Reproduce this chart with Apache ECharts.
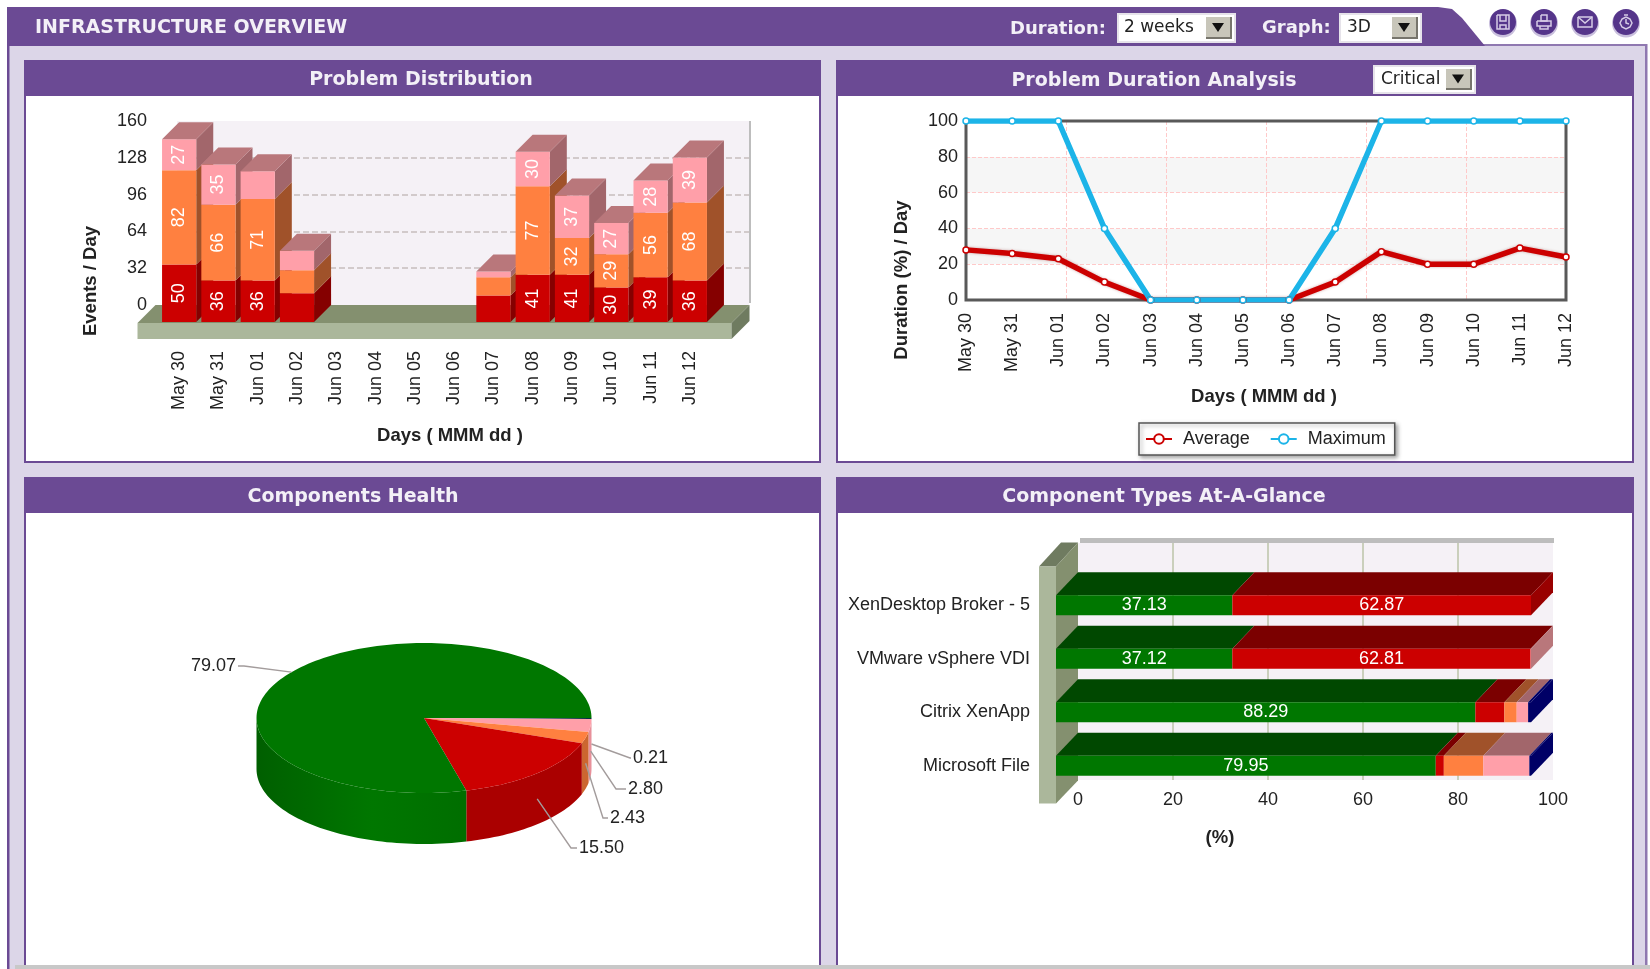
<!DOCTYPE html>
<html>
<head>
<meta charset="utf-8">
<title>Infrastructure Overview</title>
<script src="https://cdn.jsdelivr.net/npm/echarts@6/dist/echarts.min.js"></script>
<style>
html, body { margin: 0; padding: 0; background: #fff; }
#main { width: 1650px; height: 969px; }
</style>
</head>
<body>
<div id="main"></div>
<script>
// ---- data ----
var days = ['May 30', 'May 31', 'Jun 01', 'Jun 02', 'Jun 03', 'Jun 04', 'Jun 05', 'Jun 06', 'Jun 07', 'Jun 08', 'Jun 09', 'Jun 10', 'Jun 11', 'Jun 12'];

var eventsCritical = [50, 36, 36, 25, 0, 0, 0, 0, 23, 41, 41, 30, 39, 36];
var eventsMajor    = [82, 66, 71, 20, 0, 0, 0, 0, 16, 77, 32, 29, 56, 68];
var eventsMinor    = [27, 35, 24, 17, 0, 0, 0, 0, 5, 30, 37, 27, 28, 39];

var durationAverage = [28, 26, 23, 10, 0, 0, 0, 0, 10, 27, 20, 20, 29, 24];
var durationMaximum = [100, 100, 100, 40, 0, 0, 0, 0, 40, 100, 100, 100, 100, 100];

var healthValues = [0.21, 2.80, 2.43, 15.50, 79.07];

var componentTypes = ['XenDesktop Broker - 5', 'VMware vSphere VDI', 'Citrix XenApp', 'Microsoft File'];
var typeNormal   = [37.13, 37.12, 88.29, 79.95];
var typeCritical = [62.87, 62.81, 6.1, 1.7];
var typeMajor    = [0, 0, 2.6, 8.3];
var typeMinor    = [0, 0.07, 2.4, 9.7];
var typeUnknown  = [0, 0, 0.61, 0.35];

// ---- look ----
var PURPLE = '#6B4A94', LAVENDER = '#DCD6E8', WALL = '#F5F1F6';
var FONT = '"Liberation Sans", Arial, sans-serif';
var HEAD_FONT = '"DejaVu Sans", Verdana, sans-serif';
var TEXT = '#222';
var TICK_SIZE = 18, NAME_SIZE = 18.5;

// stacked bar faces: front, side, top
var RED = ['#CC0000', '#850000', '#7B0000'];
var ORANGE = ['#FF8040', '#A0522A', '#A0522A'];
var PINK = ['#FF9FA9', '#A2666B', '#B9777B'];
var GREEN = ['#007700', '#004800', '#004800'];
var NAVY = ['#000066', '#000066', '#000066'];

var chart = echarts.init(document.getElementById('main'));

// ---- page furniture ----
var chrome = [];
function box(x, y, w, h, fill, z) {
    chrome.push({ type: 'rect', z: z || -5, silent: true, shape: { x: x, y: y, width: w, height: h }, style: { fill: fill } });
}
function poly(points, fill, z) {
    chrome.push({ type: 'polygon', z: z || -5, silent: true, shape: { points: points }, style: { fill: fill } });
}
function txt(text, x, y, size, fill, opts) {
    opts = opts || {};
    chrome.push({
        type: 'text', z: opts.z || 5, silent: true, x: x, y: y, rotation: opts.rotation || 0,
        style: {
            text: text, fill: fill, font: (opts.bold ? 'bold ' : '') + size + 'px ' + (opts.font || FONT),
            align: opts.align || 'center', verticalAlign: 'middle'
        }
    });
}
function panel(x, y, w, h, title, titleX, titleY) {
    box(x, y, w, h, PURPLE);
    box(x + 2, y + 36, w - 4, h - 38, '#fff');
    txt(title, titleX, titleY || y + 20, 19, '#F3F0F7', { bold: true, font: HEAD_FONT });
}
function selectBox(x, y, w, h, text, textX, size) {
    box(x, y, w, h, '#E6E3EA', -4);
    box(x + 2, y + 2, w - 4, h - 4, '#fff', -4);
    var bx = x + w - 30;
    box(bx, y + 4, 26, h - 8, '#77756C', -4);
    box(bx, y + 4, 24, h - 10, '#C8C6BA', -4);
    var cx = bx + 12, cy = y + h / 2 - 1;
    poly([[cx - 6, cy - 4], [cx + 6, cy - 4], [cx, cy + 5]], '#111', -3);
    txt(text, textX, y + h / 2, size, '#222', { align: 'left', font: HEAD_FONT });
}
// glyph: list of polylines in a 16x16 box
function roundIcon(cx, cy, glyph) {
    chrome.push({ type: 'circle', z: -4, silent: true, shape: { cx: cx, cy: cy + 1.5, r: 14 }, style: { fill: '#C9BFDD' } });
    chrome.push({ type: 'circle', z: -4, silent: true, shape: { cx: cx, cy: cy, r: 13 }, style: { fill: '#55358A' } });
    glyph.forEach(function (line) {
        chrome.push({
            type: 'polyline', z: -3, silent: true,
            shape: { points: line.map(function (p) { return [cx - 8 + p[0], cy - 8 + p[1]]; }) },
            style: { fill: 'none', stroke: '#D6CCE6', lineWidth: 1.5 }
        });
    });
}

box(0, 0, 1650, 969, '#fff', -8);
box(7, 46, 1640, 923, LAVENDER, -7);
box(7, 46, 2.5, 923, PURPLE, -6);
box(1645, 44, 2.5, 925, '#8F78B0', -6);
box(1480, 44, 167, 2, '#8F78B0', -6);
poly([[7, 7], [1438, 7], [1452, 9], [1462, 18], [1485, 46], [7, 46]], PURPLE, -6);

txt('INFRASTRUCTURE OVERVIEW', 35, 28, 19, '#F3F0F7', { bold: true, align: 'left', font: HEAD_FONT });
txt('Duration:', 1010, 29, 18, '#F3F0F7', { bold: true, align: 'left', font: HEAD_FONT });
txt('Graph:', 1262, 28, 18, '#F3F0F7', { bold: true, align: 'left', font: HEAD_FONT });
selectBox(1117, 13, 119, 30, '2 weeks', 1124, 17);
selectBox(1339, 13, 83, 30, '3D', 1347, 17);

roundIcon(1503, 22, [[[2, 1], [14, 1], [14, 15], [2, 15], [2, 1]], [[5, 1], [5, 7], [11, 7], [11, 1]], [[5, 15], [5, 11], [11, 11], [11, 15]]]);
roundIcon(1544, 22, [[[5, 1], [11, 1], [11, 7], [5, 7], [5, 1]], [[1, 7], [15, 7], [15, 12], [1, 12], [1, 7]], [[4, 12], [4, 15], [12, 15], [12, 12]]]);
roundIcon(1585, 22, [[[1, 3], [15, 3], [15, 13], [1, 13], [1, 3]], [[1, 3], [8, 9], [15, 3]]]);
roundIcon(1626, 22, [[[8, 3], [12, 5], [14, 9], [12, 13], [8, 15], [4, 13], [2, 9], [4, 5], [8, 3]], [[8, 5], [8, 9], [11, 10]], [[6, 1], [10, 1]]]);

panel(24, 60, 797, 403, 'Problem Distribution', 421);
panel(836, 60, 798, 403, 'Problem Duration Analysis', 1154, 81);
panel(24, 477, 797, 492, 'Components Health', 353);
panel(836, 477, 798, 492, 'Component Types At-A-Glance', 1164);
selectBox(1373, 65, 103, 29, 'Critical', 1381, 17);
box(15, 965, 1635, 4, '#C8C8C8', -2);

// axis titles
txt('Events / Day', 91, 281, NAME_SIZE, TEXT, { bold: true, rotation: Math.PI / 2 });
txt('Days ( MMM dd )', 450, 436, NAME_SIZE, TEXT, { bold: true });
txt('Duration (%) / Day', 902, 280, NAME_SIZE, TEXT, { bold: true, rotation: Math.PI / 2 });
txt('Days ( MMM dd )', 1264, 397, NAME_SIZE, TEXT, { bold: true });
txt('(%)', 1220, 838, NAME_SIZE, TEXT, { bold: true });

// walls round the 3D plots
box(749, 121, 2, 182, '#BDBDBD', 0);
box(1080, 538, 474, 5, '#BDBDBD', 0);

// frame of the line plot, under the lines but over the bands
chrome.push({
    type: 'rect', z: 1, silent: true, shape: { x: 966, y: 121, width: 600, height: 179 },
    style: { fill: 'none', stroke: '#595959', lineWidth: 3 }
});

// ---- 3D helpers ----
function quad(a, b, c, d, fill) {
    return { type: 'polygon', shape: { points: [a, b, c, d] }, style: { fill: fill } };
}
function valueText(text, x, y, rotate) {
    return {
        type: 'text', x: x, y: y, rotation: rotate ? Math.PI / 2 : 0, z2: 10,
        style: { text: text, fill: '#fff', font: TICK_SIZE + 'px ' + FONT, align: 'center', verticalAlign: 'middle' }
    };
}

var BAR_DEPTH = 17, BAR_LABEL_MIN = 27;
var barFaces = [RED, ORANGE, PINK];
function renderStackedColumn(params, api) {
    var i = api.value(0);
    var halfW = api.size([1, 0])[0] * 0.435;
    var cx = api.coord([i, 0])[0];
    var x0 = cx - halfW, x1 = cx + halfW;
    var children = [], total = 0, top = null;
    for (var s = 0; s < 3; s++) {
        var v = api.value(s + 1);
        if (!v) continue;
        var yLow = api.coord([i, total])[1];
        var yHigh = api.coord([i, total + v])[1];
        total += v;
        top = yHigh;
        children.push(quad([x1, yLow], [x1 + BAR_DEPTH, yLow - BAR_DEPTH], [x1 + BAR_DEPTH, yHigh - BAR_DEPTH], [x1, yHigh], barFaces[s][1]));
        children.push(quad([x0, yLow], [x1, yLow], [x1, yHigh], [x0, yHigh], barFaces[s][0]));
        if (v >= BAR_LABEL_MIN) children.push(valueText(String(v), cx, (yLow + yHigh) / 2, true));
    }
    if (top !== null) {
        children.push(quad([x0, top], [x1, top], [x1 + BAR_DEPTH, top - BAR_DEPTH], [x0 + BAR_DEPTH, top - BAR_DEPTH], PINK[2]));
    }
    return { type: 'group', children: children };
}

// floor slab under the columns
function renderFloor(params, api) {
    var g = params.coordSys;
    var l = g.x - 22, r = g.x + g.width + 22, b = g.y + g.height, h = 16, d = BAR_DEPTH + 1;
    return {
        type: 'group', children: [
            quad([l, b + 1], [r, b + 1], [r + d, b + 1 - d], [l + d, b + 1 - d], '#84906F'),
            quad([l, b + 1], [r, b + 1], [r, b + 1 + h], [l, b + 1 + h], '#ABB79B'),
            quad([r, b + 1], [r + d, b + 1 - d], [r + d, b + 1 - d + h], [r, b + 1 + h], '#6F7B60')
        ]
    };
}

var HBAR_DX = 22, HBAR_DY = 23, HBAR_H = 20, HBAR_LABEL_MIN = 20;
var hbarFaces = [GREEN, RED, ORANGE, PINK, NAVY];
function renderStackedRow(params, api) {
    var i = api.value(0);
    var yc = api.coord([0, i])[1];
    var y0 = yc - HBAR_H / 2, y1 = yc + HBAR_H / 2;
    var children = [], total = 0, last = null;
    for (var s = 0; s < 5; s++) {
        var v = api.value(s + 1);
        if (!v) continue;
        var xa = api.coord([total, i])[0];
        var xb = api.coord([total + v, i])[0];
        total += v;
        last = { x: xb, faces: hbarFaces[s] };
        children.push(quad([xa, y0], [xb, y0], [xb + HBAR_DX, y0 - HBAR_DY], [xa + HBAR_DX, y0 - HBAR_DY], s === 3 ? PINK[1] : hbarFaces[s][2]));
        children.push(quad([xa, y0], [xb, y0], [xb, y1], [xa, y1], hbarFaces[s][0]));
        if (v >= HBAR_LABEL_MIN) children.push(valueText(v.toFixed(2), (xa + xb) / 2, yc, false));
    }
    // only the last stack shows its end face
    children.push(quad([last.x, y0], [last.x + HBAR_DX, y0 - HBAR_DY], [last.x + HBAR_DX, y1 - HBAR_DY], [last.x, y1], last.faces === PINK ? PINK[2] : last.faces === RED ? '#990000' : last.faces[0]));
    return { type: 'group', children: children };
}

// wall the row labels hang from
function renderSideWall(params, api) {
    var g = params.coordSys;
    var l = g.x - 17, r = g.x, t = g.y - 12, b = g.y + g.height + 11;
    return {
        type: 'group', children: [
            quad([l, t], [r, t], [r + HBAR_DX, t - HBAR_DY - 1], [l + HBAR_DX, t - HBAR_DY - 1], '#6F7B60'),
            quad([r, t], [r + HBAR_DX, t - HBAR_DY - 1], [r + HBAR_DX, b - HBAR_DY], [r, b], '#84906F'),
            quad([l, t], [r, t], [r, b], [l, b], '#ABB79B')
        ]
    };
}

// ---- tilted pie, angles come from healthValues ----
var PIE = { cx: 424, cy: 718, rx: 167.5, ry: 75, depth: 51 };
var pieFaces = [
    ['#003040', '#000066'], ['#FF9FA9', '#E8909A'], ['#FF8040', '#CC6630'], ['#CC0000', '#AA0000'],
    ['#007700', { type: 'linear', x: 0, y: 0, x2: 1, y2: 0, colorStops: [{ offset: 0, color: '#005F00' }, { offset: 0.55, color: '#007700' }, { offset: 1, color: '#006E00' }] }]
];
// where the leader ends, relative to the pie centre: elbow x,y then text x
var pieLabelSpots = [[206, 40, 209], [192, 71, 204], [179, 100, 186], [147, 130, 155], [-180, -52, -188]];
var pieTotal = healthValues.reduce(function (a, b) { return a + b; }, 0);

function piePoint(a) {
    return [PIE.cx + PIE.rx * Math.cos(a), PIE.cy + PIE.ry * Math.sin(a)];
}
function renderPieSlice(params, api) {
    var i = params.dataIndex, before = 0;
    for (var k = 0; k < i; k++) before += healthValues[k];
    var a0 = before / pieTotal * Math.PI * 2;
    var a1 = (before + healthValues[i]) / pieTotal * Math.PI * 2;
    var steps = Math.max(2, Math.ceil((a1 - a0) / 0.03));
    var topPts = [[PIE.cx, PIE.cy]], rim = [];
    for (var n = 0; n <= steps; n++) {
        var a = a0 + (a1 - a0) * n / steps;
        topPts.push(piePoint(a));
        if (a <= Math.PI) rim.push(piePoint(a));
    }
    var children = [];
    if (rim.length > 1) {
        var side = rim.slice();
        for (var m = rim.length - 1; m >= 0; m--) side.push([rim[m][0], rim[m][1] + PIE.depth]);
        children.push({ type: 'polygon', shape: { points: side }, style: { fill: pieFaces[i][1] } });
    }
    children.push({ type: 'polygon', z2: 2, shape: { points: topPts }, style: { fill: pieFaces[i][0] } });

    // leader line from the middle of the slice's outer edge
    var mid = (a0 + a1) / 2, start = piePoint(mid);
    if (Math.sin(mid) > 0) start[1] += PIE.depth / 2;
    var spot = pieLabelSpots[i];
    var ex = PIE.cx + spot[0], ey = PIE.cy + spot[1], tx = PIE.cx + spot[2];
    children.push({ type: 'polyline', z2: 3, shape: { points: [start, [ex, ey], [tx + (spot[2] > 0 ? -2 : 2), ey]] }, style: { stroke: '#A39C9C', lineWidth: 1.4, fill: 'none' } });
    children.push({
        type: 'text', z2: 3, x: tx, y: ey,
        style: { text: healthValues[i].toFixed(2), fill: TEXT, font: TICK_SIZE + 'px ' + FONT, align: spot[2] > 0 ? 'left' : 'right', verticalAlign: 'middle' }
    });
    return { type: 'group', children: children };
}

// ---- option ----
var rowsEvents = days.map(function (d, i) { return [i, eventsCritical[i], eventsMajor[i], eventsMinor[i]]; });
var rowsTypes = componentTypes.map(function (c, i) { return [i, typeNormal[i], typeCritical[i], typeMajor[i], typeMinor[i], typeUnknown[i]]; });
var dayLabel = { rotate: 90, fontSize: TICK_SIZE, fontFamily: FONT, color: TEXT, interval: 0 };

var option = {
    animation: false,
    textStyle: { fontFamily: FONT },
    graphic: { elements: chrome },
    legend: {
        data: ['Average', 'Maximum'], left: 1139, top: 423, padding: [7, 9, 7, 6], itemGap: 20, itemWidth: 26, itemHeight: 12,
        backgroundColor: '#fff', borderColor: '#555', borderWidth: 1.5,
        shadowColor: 'rgba(0,0,0,0.35)', shadowBlur: 4, shadowOffsetX: 2, shadowOffsetY: 2,
        textStyle: { fontSize: 18, color: TEXT, fontFamily: FONT, padding: [0, 0, 0, 6] }
    },
    grid: [
        { left: 159.5, top: 138, width: 550, height: 184 },    // columns, front plane
        { left: 177, top: 121, width: 572, height: 184, show: true, backgroundColor: WALL, borderWidth: 0 },    // columns, back wall
        { left: 966, top: 121, width: 600, height: 179, show: true, backgroundColor: '#fff', borderWidth: 0 },
        { left: 1056, top: 578.6, width: 475, height: 213.8 },    // rows, front plane
        { left: 1078, top: 543, width: 475, height: 237, show: true, backgroundColor: WALL, borderWidth: 0 }    // rows, back wall
    ],
    xAxis: [
        { gridIndex: 0, type: 'category', data: days, axisLine: { show: false }, axisTick: { show: false }, axisLabel: Object.assign({ margin: 29 }, dayLabel) },
        { gridIndex: 1, type: 'category', data: days, show: false },
        { gridIndex: 2, type: 'category', data: days, boundaryGap: false, axisLine: { show: false }, axisTick: { show: false }, axisLabel: Object.assign({ margin: 13 }, dayLabel) },
        {
            gridIndex: 2, type: 'value', position: 'top', min: 0, max: 6, interval: 1,
            axisLine: { show: false }, axisTick: { show: false }, axisLabel: { show: false },
            splitLine: { showMinLine: false, showMaxLine: false, lineStyle: { color: '#FFC9C9', type: 'dashed' } }
        },
        { gridIndex: 3, type: 'value', min: 0, max: 100, show: false },
        {
            gridIndex: 4, type: 'value', min: 0, max: 100, interval: 20,
            axisLine: { show: false }, axisTick: { show: false },
            axisLabel: { fontSize: TICK_SIZE, color: TEXT, margin: 11 },
            splitLine: { showMinLine: false, showMaxLine: false, lineStyle: { color: '#BBC3A8', width: 1.5 } }
        }
    ],
    yAxis: [
        { gridIndex: 0, type: 'value', min: 0, max: 160, show: false },
        {
            gridIndex: 1, type: 'value', min: 0, max: 160, interval: 32,
            axisLine: { show: false }, axisTick: { show: false },
            axisLabel: { fontSize: TICK_SIZE, color: TEXT, margin: 30 },
            splitLine: { showMinLine: false, showMaxLine: false, lineStyle: { color: '#C6BDBD', type: 'dashed', width: 1.5 } }
        },
        {
            gridIndex: 2, type: 'value', min: 0, max: 100, interval: 20,
            axisLine: { show: false }, axisTick: { show: false },
            axisLabel: { fontSize: TICK_SIZE, color: TEXT, margin: 8 },
            splitLine: { showMinLine: false, showMaxLine: false, lineStyle: { color: '#FFC9C9', type: 'dashed' } },
            splitArea: { show: true, areaStyle: { color: ['#fff', '#F6F6F6'] } }
        },
        {
            gridIndex: 3, type: 'category', data: componentTypes, inverse: true,
            axisLine: { show: false }, axisTick: { show: false },
            axisLabel: { fontSize: TICK_SIZE, color: TEXT, margin: 26 }
        },
        { gridIndex: 4, type: 'category', data: componentTypes, inverse: true, show: false }
    ],
    series: [
        { type: 'custom', name: 'floor', silent: true, xAxisIndex: 0, yAxisIndex: 0, data: [[0, 0]], renderItem: renderFloor },
        { type: 'custom', name: 'events', silent: true, xAxisIndex: 0, yAxisIndex: 0, data: rowsEvents, encode: { x: 0, y: [1, 2, 3] }, renderItem: renderStackedColumn },
        {
            type: 'line', name: 'Average', xAxisIndex: 2, yAxisIndex: 2, data: durationAverage,
            symbol: 'circle', symbolSize: 6,
            lineStyle: { color: '#CC0000', width: 5.5, shadowColor: 'rgba(120,0,0,0.35)', shadowBlur: 3 },
            itemStyle: { color: '#fff', borderColor: '#CC0000', borderWidth: 1.5 }
        },
        {
            type: 'line', name: 'Maximum', xAxisIndex: 2, yAxisIndex: 2, data: durationMaximum,
            symbol: 'circle', symbolSize: 6,
            lineStyle: { color: '#1CB4E8', width: 5.5 },
            itemStyle: { color: '#fff', borderColor: '#1CB4E8', borderWidth: 1.5 }
        },
        { type: 'custom', name: 'wall', silent: true, xAxisIndex: 4, yAxisIndex: 3, data: [[0, 0]], renderItem: renderSideWall },
        { type: 'custom', name: 'types', silent: true, xAxisIndex: 4, yAxisIndex: 3, data: rowsTypes, encode: { x: [1, 2, 3, 4, 5], y: 0 }, renderItem: renderStackedRow },
        { type: 'custom', name: 'health', silent: true, coordinateSystem: 'none', data: healthValues, renderItem: renderPieSlice }
    ]
};
chart.setOption(option);
</script>
</body>
</html>
